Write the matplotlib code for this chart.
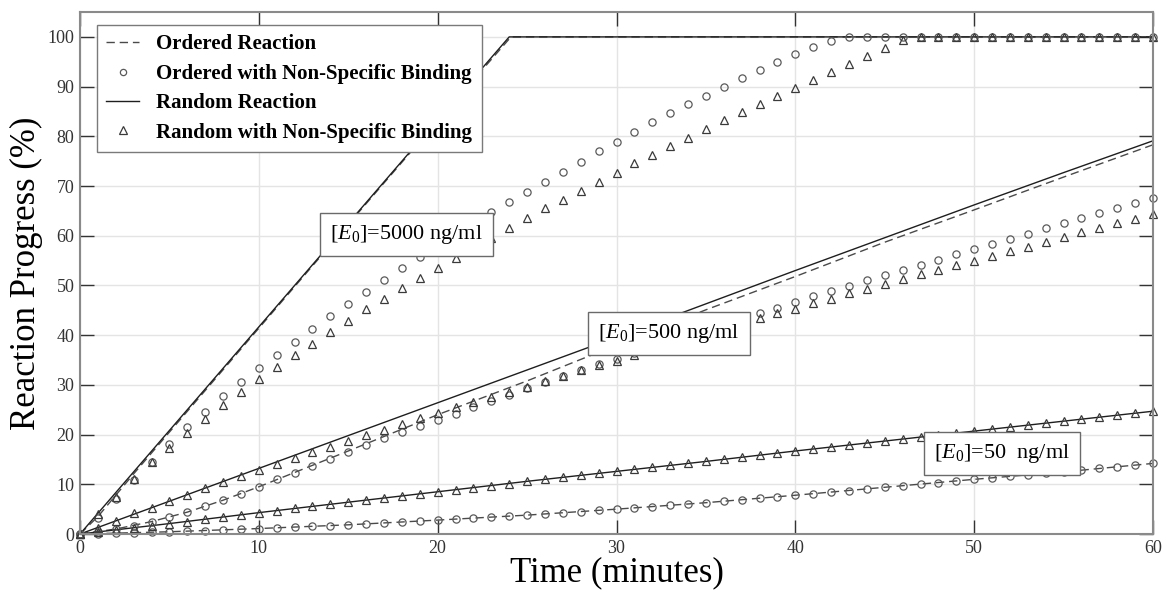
import numpy as np
import matplotlib
matplotlib.use("Agg")
import matplotlib.pyplot as plt
from matplotlib.lines import Line2D

plt.rcParams['font.family'] = ['Liberation Serif', 'DejaVu Serif']
plt.rcParams['mathtext.fontset'] = 'custom'
plt.rcParams['mathtext.rm'] = 'Liberation Serif'
plt.rcParams['mathtext.it'] = 'Liberation Serif:italic'

# sampled every minute (markers)
minutes = np.arange(0, 61)

ord_nsb_5000 = [0, 3.2, 7.0, 10.8, 14.5, 18.1, 21.5, 24.6, 27.7, 30.5, 33.3, 36.0, 38.7, 41.2,
                43.8, 46.3, 48.7, 51.1, 53.5, 55.8, 58.1, 60.3, 62.5, 64.7, 66.7, 68.8, 70.9,
                72.8, 74.8, 77.0, 78.8, 80.8, 82.8, 84.6, 86.4, 88.2, 90.0, 91.7, 93.4, 94.9,
                96.5, 97.9, 99.1] + [100] * 18
rnd_nsb_5000 = [0, 4.0, 7.5, 11.0, 14.4, 17.4, 20.4, 23.1, 26.0, 28.5, 31.1, 33.6, 36.0, 38.3,
                40.7, 42.9, 45.2, 47.3, 49.4, 51.5, 53.6, 55.6, 57.6, 59.5, 61.5, 63.5, 65.5,
                67.2, 69.1, 70.9, 72.7, 74.6, 76.2, 78.0, 79.7, 81.4, 83.2, 84.8, 86.5, 88.2,
                89.8, 91.3, 93.0, 94.6, 96.2, 97.7, 99.3] + [100] * 14
ord_nsb_500 = [0, 0.4, 1.0, 1.7, 2.5, 3.5, 4.4, 5.6, 6.8, 8.0, 9.5, 11.0, 12.2, 13.7, 15.1,
               16.5, 17.9, 19.3, 20.5, 21.8, 22.9, 24.2, 25.5, 26.8, 28.0, 29.3, 30.6, 31.8,
               33.0, 34.1, 35.3, 36.4, 37.6, 38.7, 39.9, 41.0, 42.1, 43.3, 44.4, 45.5, 46.6,
               47.8, 48.9, 49.9, 51.0, 52.1, 53.1, 54.2, 55.2, 56.3, 57.3, 58.3, 59.4, 60.4,
               61.5, 62.5, 63.5, 64.6, 65.6, 66.6, 67.6]
rnd_nsb_500 = [0, 1.2, 2.7, 4.2, 5.3, 6.7, 7.9, 9.2, 10.4, 11.6, 12.9, 14.0, 15.2, 16.4, 17.5,
               18.7, 19.9, 21.0, 22.2, 23.3, 24.4, 25.5, 26.6, 27.6, 28.6, 29.6, 30.7, 31.8,
               32.9, 33.9, 34.9, 36.0, 37.1, 38.1, 39.2, 40.3, 41.3, 42.4, 43.4, 44.4, 45.3,
               46.4, 47.3, 48.4, 49.3, 50.2, 51.3, 52.3, 53.2, 54.1, 55.0, 56.0, 56.9, 57.8,
               58.8, 59.7, 60.7, 61.6, 62.6, 63.4, 64.4]
ord_nsb_50 = [0, 0.05, 0.15, 0.25, 0.35, 0.45, 0.6, 0.7, 0.85, 0.95, 1.1, 1.25, 1.4, 1.55,
              1.7, 1.85, 2.0, 2.15, 2.35, 2.55, 2.8, 3.0, 3.2, 3.4, 3.6, 3.8, 4.05, 4.3, 4.5,
              4.75, 5.0, 5.25, 5.5, 5.75, 6.0, 6.3, 6.6, 6.9, 7.2, 7.5, 7.8, 8.1, 8.4, 8.7,
              9.05, 9.4, 9.7, 10.0, 10.3, 10.65, 11.0, 11.3, 11.6, 11.9, 12.2, 12.5, 12.85,
              13.2, 13.5, 13.85, 14.2]
rnd_nsb_50 = [0, 0.4, 0.9, 1.3, 1.7, 2.1, 2.5, 3.0, 3.5, 3.9, 4.3, 4.7, 5.2, 5.6, 6.0, 6.4,
              6.8, 7.2, 7.6, 8.0, 8.5, 8.9, 9.3, 9.7, 10.1, 10.6, 11.0, 11.4, 11.8, 12.2, 12.6,
              13.0, 13.4, 13.8, 14.2, 14.6, 15.1, 15.5, 15.9, 16.3, 16.7, 17.1, 17.5, 17.9,
              18.3, 18.7, 19.1, 19.5, 19.9, 20.3, 20.7, 21.1, 21.5, 21.9, 22.3, 22.7, 23.1,
              23.5, 23.9, 24.3, 24.7]

# reaction curves without binding
t_ord_5000 = [0, 1, 2, 3, 5, 10, 15, 20, 24.1, 60]
ord_5000 = [0, 3.5, 7.8, 12.1, 20.5, 41.4, 62.3, 83.1, 100, 100]
t_rnd_5000 = [0, 24, 60]
rnd_5000 = [0, 100, 100]

t_ord_500 = [0, 2, 4, 6, 8, 10, 15, 20, 25, 30, 35, 40, 45, 50, 55, 60]
ord_500 = [0, 1.0, 2.5, 4.4, 6.8, 9.5, 16.7, 24.0, 30.8, 38.0, 45.1, 51.8, 58.7, 65.2, 71.8, 78.3]
t_5min = [0, 5, 10, 15, 20, 25, 30, 35, 40, 45, 50, 55, 60]
rnd_500 = [0, 6.6, 13.2, 19.8, 26.4, 33.0, 39.6, 46.3, 53.0, 59.6, 66.2, 72.7, 79.1]

ord_50 = [0, 0.45, 1.1, 1.85, 2.8, 3.8, 5.0, 6.3, 7.8, 9.4, 11.0, 12.5, 14.2]
rnd_50 = [0, 2.1, 4.3, 6.4, 8.5, 10.6, 12.6, 14.6, 16.7, 18.7, 20.7, 22.7, 24.7]

labels = ['[$\\mathit{E}_{\\mathit{0}}$]=5000 ng/ml',
          '[$\\mathit{E}_{\\mathit{0}}$]=500 ng/ml',
          '[$\\mathit{E}_{\\mathit{0}}$]=50  ng/ml']
label_xy = [(18.25, 60.2), (32.95, 40.4), (51.55, 16.2)]

fig = plt.figure(figsize=(11.63, 5.90), dpi=100)
ax = fig.add_axes([0.0688, 0.0949, 0.9226, 0.8847])

dash_kw = dict(color='#4a4a4a', lw=1.0, ls=(0, (6, 3.5)))
solid_kw = dict(color='#1e1e1e', lw=1.0)
circ_kw = dict(ls='none', marker='o', ms=5.2, mfc='none', mec='#5a5a5a', mew=0.9, clip_on=False)
tri_kw = dict(ls='none', marker='^', ms=5.8, mfc='none', mec='#3a3a3a', mew=0.9, clip_on=False)

ax.plot(t_ord_5000, ord_5000, **dash_kw)
ax.plot(t_ord_500, ord_500, **dash_kw)
ax.plot(t_5min, ord_50, **dash_kw)
ax.plot(t_rnd_5000, rnd_5000, **solid_kw)
ax.plot(t_5min, rnd_500, **solid_kw)
ax.plot(t_5min, rnd_50, **solid_kw)

for ys in (ord_nsb_5000, ord_nsb_500, ord_nsb_50):
    ax.plot(minutes, ys, **circ_kw)
for ys in (rnd_nsb_5000, rnd_nsb_500, rnd_nsb_50):
    ax.plot(minutes, ys, **tri_kw)

for txt, (x, y) in zip(labels, label_xy):
    ax.text(x, y, txt, fontsize=16, ha='center', va='center', zorder=10,
            bbox=dict(boxstyle='square,pad=0.45', fc='white', ec='#6a6a6a', lw=1.0))

ax.set_xlim(0, 60)
ax.set_ylim(0, 105)
ax.set_xticks(range(0, 61, 10))
ax.set_yticks(range(0, 101, 10))
ax.grid(True, color='#e4e4e4', lw=1.0)
ax.set_axisbelow(True)
ax.tick_params(direction='in', length=10, width=1, top=True, right=True,
               labelsize=13, colors='#333333', pad=4)
for sp in ax.spines.values():
    sp.set_color('#8a8a8a')
    sp.set_linewidth(1.5)

ax.set_xlabel('Time (minutes)', fontsize=25, labelpad=0)
ax.set_ylabel('Reaction Progress (%)', fontsize=25, labelpad=3)

handles = [
    Line2D([], [], **dash_kw),
    Line2D([], [], ls='none', marker='o', ms=4.5, mfc='none', mec='#5a5a5a', mew=0.9),
    Line2D([], [], **solid_kw),
    Line2D([], [], ls='none', marker='^', ms=6, mfc='none', mec='#3a3a3a', mew=0.9),
]
names = ['Ordered Reaction', 'Ordered with Non-Specific Binding',
         'Random Reaction', 'Random with Non-Specific Binding']
leg = ax.legend(handles, names, loc='upper left', bbox_to_anchor=(0.0156, 0.975),
                borderaxespad=0, fancybox=False, edgecolor='#7a7a7a', framealpha=1,
                prop=dict(weight='bold', size=15), handlelength=1.6, handletextpad=0.8,
                labelspacing=0.45, borderpad=0.45)
leg.get_frame().set_linewidth(1.0)

fig.savefig('out.png', dpi=100)
